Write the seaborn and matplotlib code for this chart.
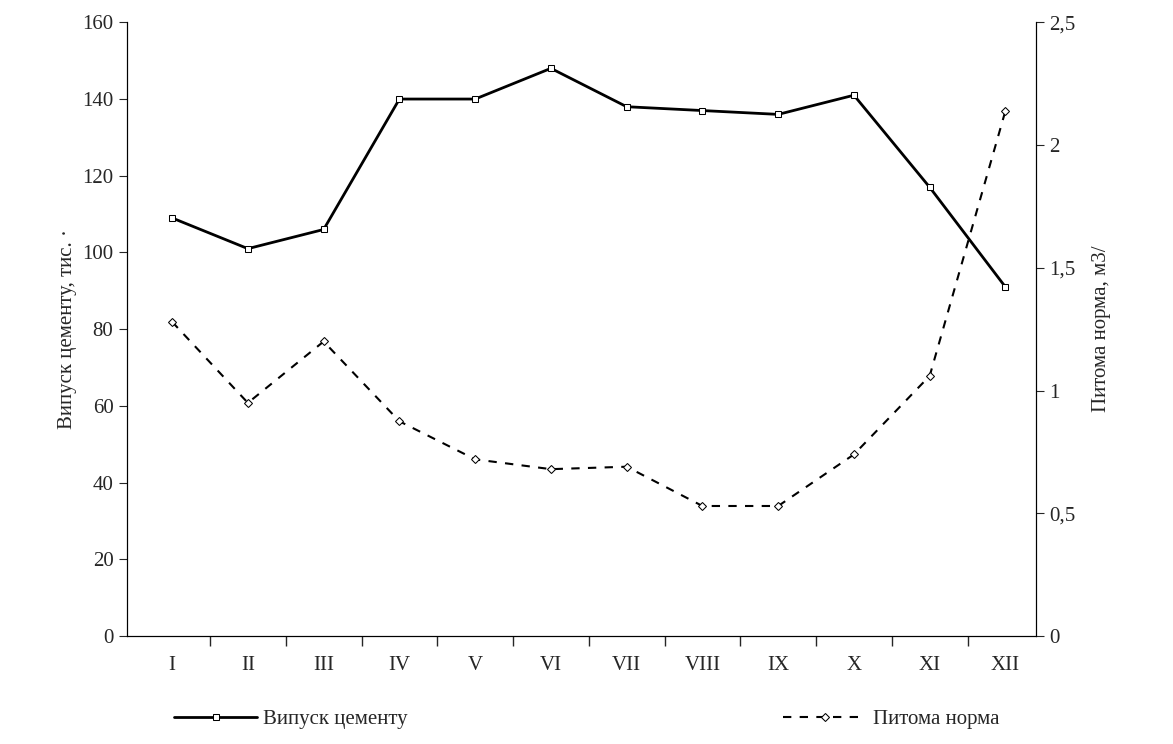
import numpy as np
import matplotlib
matplotlib.use('Agg')
import matplotlib.pyplot as plt
import seaborn as sns

sns.set_style('white')
plt.rcParams['font.family'] = ['Liberation Serif', 'DejaVu Serif']

months = ['I', 'II', 'III', 'IV', 'V', 'VI', 'VII', 'VIII', 'IX', 'X', 'XI', 'XII']
cement = [109, 101, 106, 140, 140, 148, 138, 137, 136, 141, 117, 91]
norm = [1.28, 0.95, 1.20, 0.875, 0.72, 0.68, 0.69, 0.53, 0.53, 0.74, 1.06, 2.14]

fig = plt.figure(figsize=(11.73, 7.44), dpi=100)
ax = fig.add_axes([0.108, 0.145, 0.775, 0.825])
ax2 = ax.twinx()
x = np.arange(len(months))

sns.lineplot(x=x, y=cement, ax=ax, color='black', lw=2, marker='s', markersize=5,
             markerfacecolor='white', markeredgecolor='black', label='Випуск цементу', legend=False)
sns.lineplot(x=x, y=norm, ax=ax2, color='black', lw=1.5, marker='D', markersize=4,
             markerfacecolor='white', markeredgecolor='black', label='Питома норма', legend=False)
ax2.lines[0].set_dashes([4, 4])

ax.set_xlim(-0.6, 11.4)
ax.set_ylim(0, 160)
ax2.set_ylim(0, 2.5)
ax.set_yticks(range(0, 161, 20))
ax2.set_yticks([0, 0.5, 1, 1.5, 2, 2.5])
ax2.set_yticklabels(['0', '0,5', '1', '1,5', '2', '2,5'])
ax.set_xticks(x)
ax.set_xticklabels(months)
ax.set_xticks(np.arange(0.5, 11.5, 1), minor=True)
ax.tick_params(axis='x', which='major', length=0, pad=14, labelsize=15)
ax.tick_params(axis='x', which='minor', length=7, direction='out', width=1, bottom=True)
ax.tick_params(axis='y', length=6, direction='out', labelsize=15, left=True)
ax2.tick_params(axis='y', length=6, direction='out', labelsize=15, right=True)
for a in (ax, ax2):
    a.spines['top'].set_visible(False)
    for s in ['left', 'right', 'bottom']:
        a.spines[s].set_color('black')
ax.set_ylabel('Випуск цементу, тис. ·', fontsize=15)
ax2.set_ylabel('Питома норма, м3/', fontsize=15, labelpad=12)

h1, l1 = ax.get_legend_handles_labels()
h2, l2 = ax2.get_legend_handles_labels()
fig.legend(h1 + h2, l1 + l2, loc='lower center', ncol=2, frameon=False, fontsize=15,
           bbox_to_anchor=(0.5, -0.005), columnspacing=18, handlelength=4, handletextpad=0.3)
fig.savefig('out.png', dpi=100)
